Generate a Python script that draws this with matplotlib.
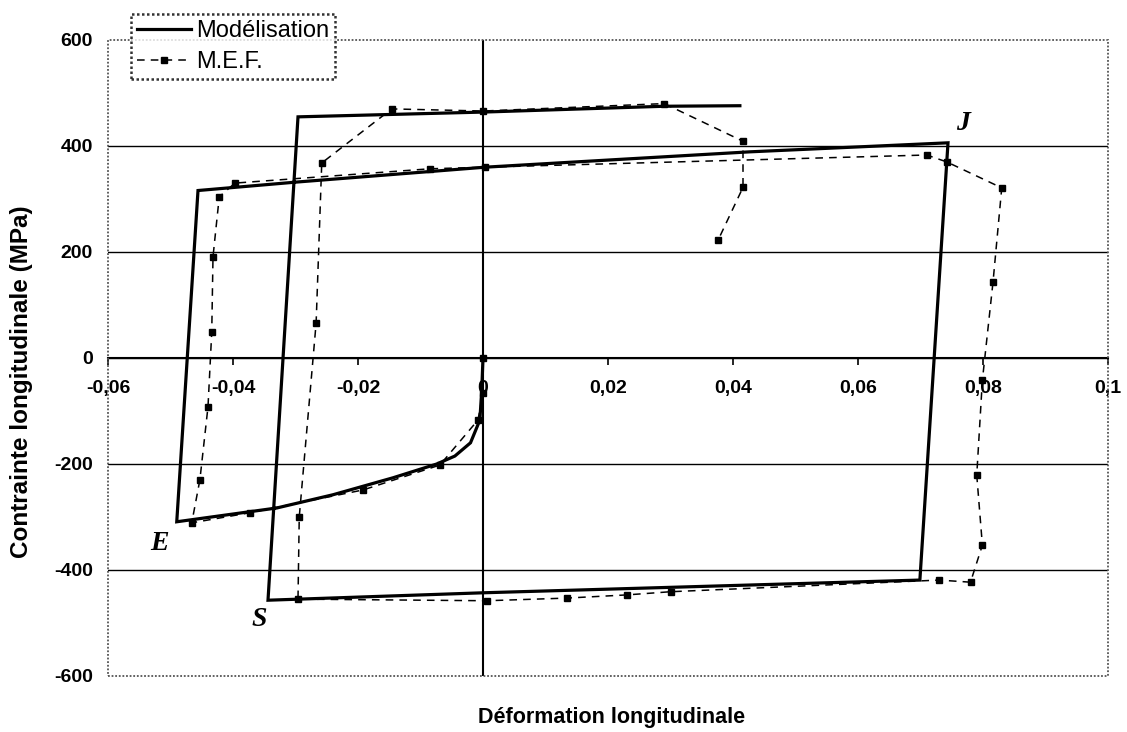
import matplotlib
matplotlib.use("Agg")
import matplotlib.pyplot as plt
from matplotlib.lines import Line2D
from matplotlib.patches import Rectangle

# Modélisation (modèle analytique) : trajet complet de chargement cyclique
strain_mod = [0.0, -0.0002, -0.0005, -0.002, -0.0045, -0.0074, -0.0144, -0.024,
              -0.033, -0.049, -0.0456, -0.0298, 0.0003, 0.0427, 0.0744, 0.0699,
              0.0, -0.0344, -0.0296, 0.0, 0.029, 0.0411]
stress_mod = [0, -60, -117, -160, -185, -200, -226, -258,
              -283, -309, 316, 332, 360, 389, 406, -419,
              -443, -457, 455, 464, 475, 476]

# M.E.F. (éléments finis)
strain_mef = [0.0, 0.0, -0.0008, -0.0069, -0.0192, -0.0373, -0.0466,
              -0.0453, -0.044, -0.0434, -0.0432, -0.0422, -0.0397, -0.0085, 0.0003,
              0.071, 0.0742, 0.083, 0.0816, 0.0799, 0.079, 0.0799, 0.078, 0.073,
              0.030, 0.023, 0.0134, 0.0006, -0.0296, -0.0294, -0.0267, -0.0258,
              -0.0146, 0.0, 0.029, 0.0416, 0.0416, 0.0376]
stress_mef = [0, -66, -117, -202, -249, -292, -311,
              -230, -92, 49, 191, 304, 330, 357, 360,
              383, 370, 321, 143, -42, -221, -353, -423, -419,
              -441, -447, -453, -458, -455, -300, 66, 368,
              470, 466, 480, 409, 322, 222]

x_ticks = [-0.06, -0.04, -0.02, 0.0, 0.02, 0.04, 0.06, 0.08, 0.1]
x_labels = ["-0,06", "-0,04", "-0,02", "0", "0,02", "0,04", "0,06", "0,08", "0,1"]
y_ticks = [-600, -400, -200, 0, 200, 400, 600]

# points remarquables du cycle
points = {"E": (-0.0517, -350), "S": (-0.0358, -494), "J": (0.0768, 443)}

plt.rcParams['font.family'] = ['Liberation Sans', 'DejaVu Sans']

fig = plt.figure(figsize=(11.27, 7.32), dpi=100)
ax = fig.add_axes([108 / 1127, 1 - 676 / 732, 1000 / 1127, 636 / 732])

ax.set_xlim(-0.06, 0.1)
ax.set_ylim(-600, 600)

ax.plot(strain_mef, stress_mef, color='black', lw=1.1, ls=(0, (5, 4)),
        marker='s', ms=4.5, zorder=3)
ax.plot(strain_mod, stress_mod, color='black', lw=2.3, solid_joinstyle='miter',
        zorder=4)

# axes qui se croisent en 0
for side in ['top', 'right', 'left']:
    ax.spines[side].set_visible(False)
ax.spines['bottom'].set_position(('data', 0))
ax.spines['bottom'].set_linewidth(1.5)
ax.axvline(0, color='black', lw=1.5, zorder=2)

ax.add_patch(Rectangle((0, 0), 1, 1, transform=ax.transAxes, fill=False,
                       edgecolor='#555555', lw=1.3, ls=(0, (1, 1)), zorder=5,
                       clip_on=False))

ax.set_xticks(x_ticks)
ax.set_xticklabels(x_labels, fontweight='bold')
ax.tick_params(axis='x', direction='out', length=5, width=1.2, pad=11,
               labelsize=14)
ax.set_yticks(y_ticks)
ax.set_yticklabels([str(v) for v in y_ticks], fontweight='bold')
ax.tick_params(axis='y', length=0, pad=11, labelsize=14)

ax.grid(axis='y', color='black', lw=1.0)
ax.set_axisbelow(True)
glines = ax.yaxis.get_gridlines()
glines[0].set_visible(False)
glines[-1].set_visible(False)

for name, (px, py) in points.items():
    ax.text(px, py, name, fontsize=20, fontweight='bold', fontstyle='italic',
            family='Liberation Serif', ha='center', va='center')

fig.text(612 / 1127, 1 - 717 / 732, "Déformation longitudinale",
         fontsize=15.5, fontweight='bold', ha='center', va='center')
fig.text(22 / 1127, 1 - 382 / 732, "Contrainte longitudinale (MPa)",
         fontsize=17.5, fontweight='bold', ha='center', va='center',
         rotation=90)

handles = [Line2D([], [], color='black', lw=2.3),
           Line2D([], [], color='black', lw=1.1, ls=(0, (5, 4)), marker='s', ms=4.5)]
leg = fig.legend(handles, ["Modélisation", "M.E.F."], loc='upper left',
                 bbox_to_anchor=(131 / 1127, 1 - 14 / 732), frameon=True,
                 fancybox=False, edgecolor='black', fontsize=17,
                 handlelength=2.3, handletextpad=0.2, borderpad=0.25,
                 labelspacing=0.4, borderaxespad=0, numpoints=1)
leg.get_frame().set_linewidth(1.8)
leg.get_frame().set_linestyle((0, (1, 1)))

fig.savefig("out.png", dpi=100)
